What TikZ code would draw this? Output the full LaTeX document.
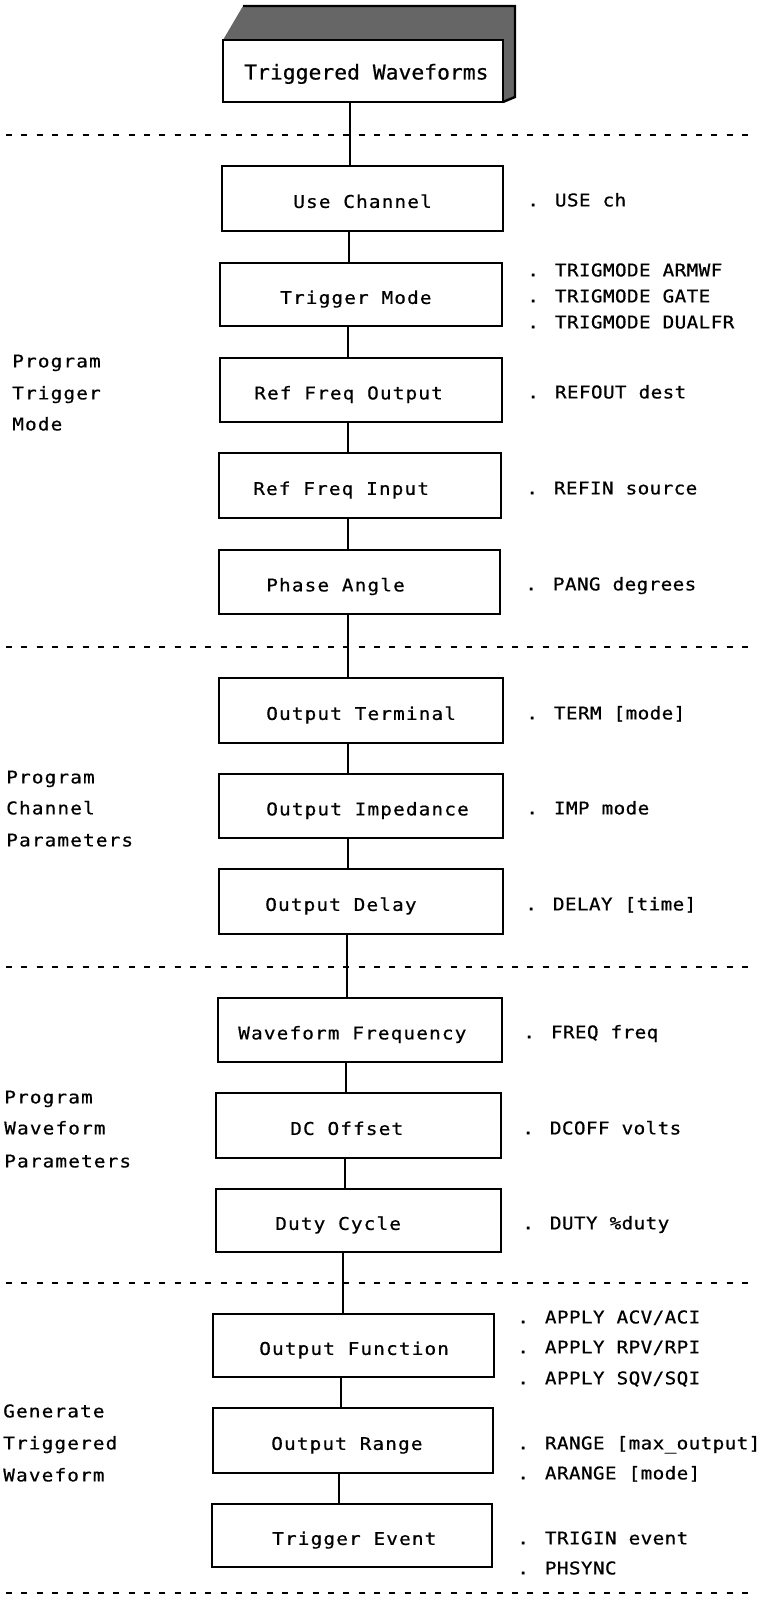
\documentclass[tikz,border=0pt]{standalone}
\usepackage{fontspec}
\newfontfamily\plotfont[FakeStretch=1.1,LetterSpace=6.5,FakeBold=0.6]{DejaVu Sans Mono}
\newfontfamily\lblfont[FakeStretch=1.1,LetterSpace=2,FakeBold=0.6]{DejaVu Sans Mono}
\newfontfamily\ttlfont[FakeStretch=1.04,FakeBold=0.6]{DejaVu Sans Mono}
\usetikzlibrary{fit}
\begin{document}
\begin{tikzpicture}[x=0.75pt,y=-0.75pt,
  boxst/.style={draw, line width=1.4pt, inner sep=0pt},
  txt/.style={font={\plotfont\fontsize{13.2pt}{15pt}\selectfont}, anchor=west, inner sep=0pt, text height=9.6pt, text depth=0pt},
  lbl/.style={font={\lblfont\fontsize{13.2pt}{15pt}\selectfont}, anchor=west, inner sep=0pt, text height=9.6pt, text depth=0pt},
  ttl/.style={font={\ttlfont\fontsize{15.4pt}{17pt}\selectfont}, anchor=west, inner sep=0pt, text height=11.25pt, text depth=0pt},
  conn/.style={line width=1.3pt},
  sepline/.style={line width=0.9pt, dash pattern=on 4.5pt off 7pt},
  shade/.style={fill=black!60, draw=none}]
\useasboundingbox (0,0) rectangle (767,1601);

% title with shadow
\fill[shade] (223,40) -- (243,6) -- (515,6) -- (515,97) -- (503,102) -- (503,40) -- cycle;
\draw[line width=1.8pt] (243,6) -- (515,6) -- (515,97) -- (503,102);
\node[boxst, fill=white, fit={(223,40) (503,102)}] (title) {};
\node[ttl] (ttitle) at (244,72) {Triggered Waveforms};

% separators
\draw[sepline] (6,135) -- (752,135);
\draw[sepline] (6,647) -- (752,647);
\draw[sepline] (6,967) -- (752,967);
\draw[sepline] (6,1283) -- (752,1283);
\draw[sepline] (6,1593) -- (752,1593);

% boxes
\node[boxst, fit={(222,166) (503,231)}] (usech) {};
\node[boxst, fit={(220,263) (502,326)}] (trigmode) {};
\node[boxst, fit={(220,358) (502,422)}] (refout) {};
\node[boxst, fit={(219,453) (501,518)}] (refin) {};
\node[boxst, fit={(219,550) (500,614)}] (phase) {};
\node[boxst, fit={(219,678) (503,743)}] (outterm) {};
\node[boxst, fit={(219,774) (503,838)}] (outimp) {};
\node[boxst, fit={(219,869) (503,934)}] (outdelay) {};
\node[boxst, fit={(218,998) (502,1062)}] (wavefreq) {};
\node[boxst, fit={(216,1093) (501,1158)}] (dcoff) {};
\node[boxst, fit={(216,1189) (501,1252)}] (duty) {};
\node[boxst, fit={(213,1314) (494,1377)}] (outfunc) {};
\node[boxst, fit={(213,1408) (493,1473)}] (outrange) {};
\node[boxst, fit={(212,1504) (492,1567)}] (trigev) {};

% box texts
\node[txt] (t1) at (293,201.5) {Use Channel};
\node[txt] (t2) at (280,297.5) {Trigger Mode};
\node[txt] (t3) at (254,393) {Ref Freq Output};
\node[txt] (t4) at (253,488.5) {Ref Freq Input};
\node[txt] (t5) at (266,585) {Phase Angle};
\node[txt] (t6) at (266,713.5) {Output Terminal};
\node[txt] (t7) at (266,809) {Output Impedance};
\node[txt] (t8) at (265,904.5) {Output Delay};
\node[txt] (t9) at (238,1033) {Waveform Frequency};
\node[txt] (t10) at (290,1128.5) {DC Offset};
\node[txt] (t11) at (275,1223.5) {Duty Cycle};
\node[txt] (t12) at (259,1348.5) {Output Function};
\node[txt] (t13) at (271,1443.5) {Output Range};
\node[txt] (t14) at (272,1538.5) {Trigger Event};

% connectors
\coordinate (c1) at (350,0);
\coordinate (c2) at (349,0);
\coordinate (c3) at (348,0);
\coordinate (c4) at (348,0);
\coordinate (c5) at (348,0);
\coordinate (c6) at (348,0);
\coordinate (c7) at (348,0);
\coordinate (c8) at (348,0);
\coordinate (c9) at (347,0);
\coordinate (c10) at (346,0);
\coordinate (c11) at (345,0);
\coordinate (c12) at (343,0);
\coordinate (c13) at (341,0);
\coordinate (c14) at (339,0);
\draw[conn] (title.south -| c1) -- (usech.north -| c1);
\draw[conn] (usech.south -| c2) -- (trigmode.north -| c2);
\draw[conn] (trigmode.south -| c3) -- (refout.north -| c3);
\draw[conn] (refout.south -| c4) -- (refin.north -| c4);
\draw[conn] (refin.south -| c5) -- (phase.north -| c5);
\draw[conn] (phase.south -| c6) -- (outterm.north -| c6);
\draw[conn] (outterm.south -| c7) -- (outimp.north -| c7);
\draw[conn] (outimp.south -| c8) -- (outdelay.north -| c8);
\draw[conn] (outdelay.south -| c9) -- (wavefreq.north -| c9);
\draw[conn] (wavefreq.south -| c10) -- (dcoff.north -| c10);
\draw[conn] (dcoff.south -| c11) -- (duty.north -| c11);
\draw[conn] (duty.south -| c12) -- (outfunc.north -| c12);
\draw[conn] (outfunc.south -| c13) -- (outrange.north -| c13);
\draw[conn] (outrange.south -| c14) -- (trigev.north -| c14);

% command labels
\node[lbl] (l1) at (527,200) {. USE ch};
\node[lbl] (l2a) at (527,270) {. TRIGMODE ARMWF};
\node[lbl] (l2b) at (527,296) {. TRIGMODE GATE};
\node[lbl] (l2c) at (527,322) {. TRIGMODE DUALFR};
\node[lbl] (l3) at (527,392) {. REFOUT dest};
\node[lbl] (l4) at (526,488) {. REFIN source};
\node[lbl] (l5) at (525,584) {. PANG degrees};
\node[lbl] (l6) at (526,713) {. TERM [mode]};
\node[lbl] (l7) at (526,808) {. IMP mode};
\node[lbl] (l8) at (525,904) {. DELAY [time]};
\node[lbl] (l9) at (523,1032) {. FREQ freq};
\node[lbl] (l10) at (522,1128) {. DCOFF volts};
\node[lbl] (l11) at (522,1223) {. DUTY \%duty};
\node[lbl] (l12a) at (517,1317) {. APPLY ACV/ACI};
\node[lbl] (l12b) at (517,1347) {. APPLY RPV/RPI};
\node[lbl] (l12c) at (517,1378) {. APPLY SQV/SQI};
\node[lbl] (l13a) at (517,1443) {. RANGE [max\_output]};
\node[lbl] (l13b) at (517,1473) {. ARANGE [mode]};
\node[lbl] (l14a) at (517,1538) {. TRIGIN event};
\node[lbl] (l14b) at (517,1568) {. PHSYNC};

% group labels
\node[txt] (g1a) at (12,361) {Program};
\node[txt] (g1b) at (12,393) {Trigger};
\node[txt] (g1c) at (12,424) {Mode};
\node[txt] (g2a) at (6,777) {Program};
\node[txt] (g2b) at (6,808) {Channel};
\node[txt] (g2c) at (6,840) {Parameters};
\node[txt] (g3a) at (4,1097) {Program};
\node[txt] (g3b) at (4,1128) {Waveform};
\node[txt] (g3c) at (4,1161) {Parameters};
\node[txt] (g4a) at (3,1411) {Generate};
\node[txt] (g4b) at (3,1443) {Triggered};
\node[txt] (g4c) at (3,1475) {Waveform};
\end{tikzpicture}
\end{document}
